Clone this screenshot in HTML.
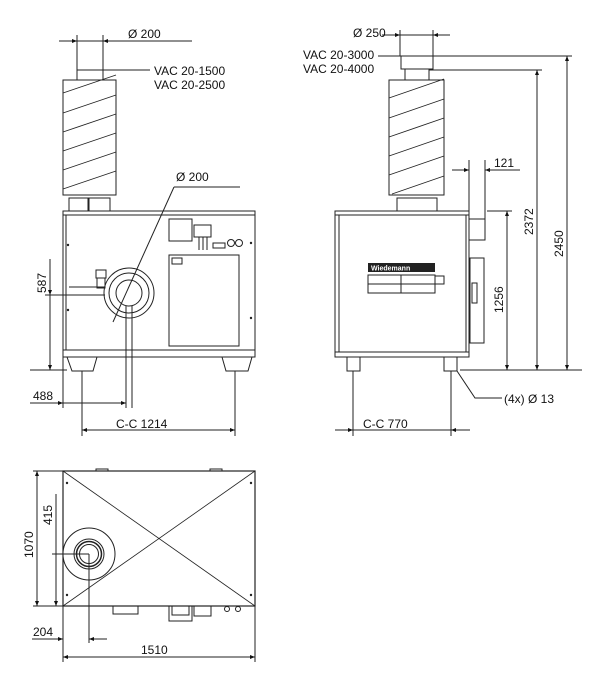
<!DOCTYPE html>
<html><head><meta charset="utf-8"><style>
html,body{margin:0;padding:0;background:#fff;}
svg{display:block;}
text{font-family:"Liberation Sans",Arial,sans-serif;font-size:12px;fill:#111;}
</style></head><body>
<svg width="600" height="700" viewBox="0 0 600 700" xmlns="http://www.w3.org/2000/svg">
<defs>
<marker id="a" viewBox="0 0 10 10" refX="10" refY="5" markerWidth="6" markerHeight="5" orient="auto-start-reverse"><path d="M0,1 L10,5 L0,9z" fill="#111"/></marker>
</defs>
<g fill="none" stroke="#222" stroke-width="1">
<rect x="77" y="70" width="26" height="10"/>
<rect x="63" y="80" width="53" height="115"/>
<g stroke-width="0.9">
<line x1="63" y1="93" x2="116" y2="75"/>
<line x1="63" y1="113" x2="116" y2="95"/>
<line x1="63" y1="132" x2="116" y2="114"/>
<line x1="63" y1="151" x2="116" y2="133"/>
<line x1="63" y1="170" x2="116" y2="152"/>
<line x1="63" y1="189" x2="116" y2="171"/>
</g>
<rect x="69" y="198" width="19" height="13"/><rect x="89" y="198" width="21" height="13"/>
<rect x="63" y="211" width="192" height="4"/>
<rect x="63" y="215" width="192" height="135"/>
<line x1="66" y1="215" x2="66" y2="350"/>
<rect x="63" y="350" width="192" height="7"/>
<path d="M67,357 L97,357 L93,371 L72,371z"/>
<path d="M222,357 L252,357 L248,371 L226,371z"/>
<rect x="169" y="219" width="23" height="22"/>
<rect x="194" y="225" width="17" height="12"/>
<line x1="199" y1="237" x2="199" y2="250"/><line x1="203" y1="237" x2="203" y2="250"/><line x1="207" y1="237" x2="207" y2="250"/>
<rect x="213" y="243" width="12" height="5"/>
<circle cx="231" cy="243" r="3.5"/><circle cx="239" cy="243" r="3.5"/>
<rect x="169" y="255" width="70" height="91"/>
<rect x="172" y="258" width="10" height="6"/>
<rect x="96" y="270" width="10" height="8"/><rect x="97" y="278" width="8" height="10"/>
<circle cx="129" cy="293" r="25"/>
<circle cx="129" cy="293" r="20"/>
<circle cx="129" cy="293" r="13"/>
<line x1="69" y1="287" x2="105" y2="287"/><line x1="69" y1="295" x2="105" y2="295"/>
<line x1="59" y1="41" x2="192" y2="41"/>
<line x1="59" y1="41" x2="77" y2="41" marker-end="url(#a)"/>
<line x1="120" y1="41" x2="103" y2="41" marker-end="url(#a)"/>
<line x1="77" y1="35" x2="77" y2="70"/><line x1="103" y1="35" x2="103" y2="70"/>
<line x1="103" y1="70" x2="150" y2="70"/>
<line x1="174" y1="187" x2="240" y2="187"/>
<line x1="174" y1="187" x2="113" y2="322"/>
<line x1="50" y1="259" x2="50" y2="370"/>
<line x1="50" y1="280" x2="50" y2="295" marker-end="url(#a)"/>
<line x1="50" y1="350" x2="50" y2="370" marker-end="url(#a)"/>
<line x1="30" y1="370" x2="67" y2="370"/><line x1="45" y1="295" x2="69" y2="295"/>
<line x1="30" y1="403" x2="126" y2="403"/>
<line x1="40" y1="403" x2="63" y2="403" marker-end="url(#a)"/>
<line x1="100" y1="403" x2="126" y2="403" marker-end="url(#a)"/>
<line x1="63" y1="357" x2="63" y2="408"/>
<line x1="126" y1="306" x2="126" y2="408"/><line x1="132" y1="306" x2="132" y2="408"/>
<line x1="82" y1="371" x2="82" y2="436"/><line x1="235" y1="371" x2="235" y2="436"/>
<line x1="82" y1="430" x2="235" y2="430" marker-start="url(#a)" marker-end="url(#a)"/>
<rect x="401" y="56" width="32" height="13"/>
<rect x="405" y="69" width="24" height="11"/>
<rect x="389" y="80" width="55" height="115"/>
<g stroke-width="0.9">
<line x1="389" y1="98" x2="444" y2="79"/>
<line x1="389" y1="118" x2="444" y2="99"/>
<line x1="389" y1="137" x2="444" y2="118"/>
<line x1="389" y1="156" x2="444" y2="137"/>
<line x1="389" y1="175" x2="444" y2="156"/>
<line x1="392" y1="194" x2="444" y2="176"/>
</g>
<rect x="397" y="198" width="40" height="13"/>
<rect x="335" y="211" width="134" height="4"/>
<rect x="335" y="215" width="134" height="142"/>
<line x1="339" y1="215" x2="339" y2="352"/><line x1="466" y1="215" x2="466" y2="352"/>
<line x1="335" y1="352" x2="469" y2="352"/>
<rect x="347" y="357" width="13" height="14"/><rect x="444" y="357" width="13" height="14"/>
<rect x="469" y="219" width="16" height="21"/>
<rect x="470" y="258" width="14" height="85"/>
<rect x="472" y="283" width="5" height="20"/>
<rect x="368" y="275" width="67" height="18"/>
<line x1="368" y1="284" x2="435" y2="284"/><line x1="401" y1="275" x2="401" y2="293"/>
<rect x="435" y="276" width="9" height="8"/>
<line x1="382" y1="35" x2="400" y2="35" marker-end="url(#a)"/>
<line x1="450" y1="35" x2="433" y2="35" marker-end="url(#a)"/>
<line x1="400" y1="35" x2="433" y2="35"/>
<line x1="400" y1="30" x2="400" y2="56"/><line x1="433" y1="30" x2="433" y2="56"/>
<line x1="378" y1="56" x2="572" y2="56"/>
<line x1="429" y1="70" x2="542" y2="70"/>
<line x1="567" y1="56" x2="567" y2="370" marker-start="url(#a)" marker-end="url(#a)"/>
<line x1="537" y1="70" x2="537" y2="370" marker-start="url(#a)" marker-end="url(#a)"/>
<line x1="507" y1="211" x2="507" y2="370" marker-start="url(#a)" marker-end="url(#a)"/>
<line x1="487" y1="211" x2="512" y2="211"/>
<line x1="460" y1="370" x2="582" y2="370"/>
<line x1="452" y1="170" x2="469" y2="170" marker-end="url(#a)"/>
<line x1="502" y1="170" x2="485" y2="170" marker-end="url(#a)"/>
<line x1="485" y1="170" x2="520" y2="170"/>
<line x1="469" y1="160" x2="469" y2="211"/><line x1="485" y1="160" x2="485" y2="219"/>
<polyline points="457,371 475,398 502,398"/>
<line x1="353" y1="371" x2="353" y2="436"/><line x1="451" y1="371" x2="451" y2="436"/>
<line x1="335" y1="430" x2="353" y2="430" marker-end="url(#a)"/>
<line x1="470" y1="430" x2="451" y2="430" marker-end="url(#a)"/>
<line x1="353" y1="430" x2="451" y2="430"/>
<rect x="63" y="471" width="192" height="135" stroke-width="1.2"/>
<line x1="63" y1="471" x2="255" y2="606" stroke-width="0.8"/>
<line x1="255" y1="471" x2="63" y2="606" stroke-width="0.8"/>
<rect x="96" y="469" width="12" height="2"/><rect x="210" y="469" width="12" height="2"/>
<circle cx="89" cy="554" r="26" fill="#fff"/>
<circle cx="89" cy="554" r="15"/><circle cx="89" cy="554" r="12.5" stroke-width="1.5"/><circle cx="89" cy="554" r="9.5"/>
<rect x="113" y="606" width="25" height="8"/>
<rect x="169" y="606" width="23" height="15"/><rect x="172" y="606" width="17" height="9"/>
<rect x="194" y="606" width="17" height="10"/>
<circle cx="227" cy="609" r="2.5"/><circle cx="238" cy="609" r="2.5"/>
<line x1="37" y1="471" x2="37" y2="606" marker-start="url(#a)" marker-end="url(#a)"/>
<line x1="33" y1="471" x2="63" y2="471"/><line x1="33" y1="606" x2="63" y2="606"/>
<line x1="56" y1="494" x2="56" y2="606" marker-end="url(#a)"/>
<line x1="52" y1="554" x2="89" y2="554"/>
<line x1="32" y1="639" x2="63" y2="639" marker-end="url(#a)"/>
<line x1="107" y1="639" x2="89" y2="639" marker-end="url(#a)"/>
<line x1="63" y1="606" x2="63" y2="662"/><line x1="89" y1="554" x2="89" y2="643"/>
<line x1="255" y1="606" x2="255" y2="662"/>
<line x1="63" y1="657" x2="255" y2="657" marker-start="url(#a)" marker-end="url(#a)"/>
</g>
<rect x="368" y="263" width="67" height="9" fill="#222"/>
<text x="371" y="270.5" style="font-size:7px;font-weight:bold;fill:#fff">Wiedemann</text>
<g fill="#222"><circle cx="68" cy="245" r="1.2"/><circle cx="68" cy="310" r="1.2"/><circle cx="251" cy="243" r="1.2"/><circle cx="251" cy="318" r="1.2"/><circle cx="67" cy="483" r="1.2"/><circle cx="251" cy="483" r="1.2"/><circle cx="67" cy="595" r="1.2"/><circle cx="251" cy="595" r="1.2"/></g>
<text x="128" y="38">Ø 200</text>
<text x="154" y="75">VAC 20-1500</text>
<text x="154" y="89">VAC 20-2500</text>
<text x="176" y="181">Ø 200</text>
<text transform="translate(46,293) rotate(-90)">587</text>
<text x="33" y="400">488</text>
<text x="116" y="428">C-C  1214</text>
<text x="353" y="37">Ø 250</text>
<text x="303" y="59">VAC 20-3000</text>
<text x="303" y="73">VAC 20-4000</text>
<text x="494" y="167">121</text>
<text transform="translate(503,313) rotate(-90)">1256</text>
<text transform="translate(533,235) rotate(-90)">2372</text>
<text transform="translate(563,257) rotate(-90)">2450</text>
<text x="504" y="403">(4x)  Ø 13</text>
<text x="363" y="428">C-C  770</text>
<text transform="translate(33,558) rotate(-90)">1070</text>
<text transform="translate(52,525) rotate(-90)">415</text>
<text x="33" y="636">204</text>
<text x="141" y="654">1510</text>
</svg>
</body></html>
